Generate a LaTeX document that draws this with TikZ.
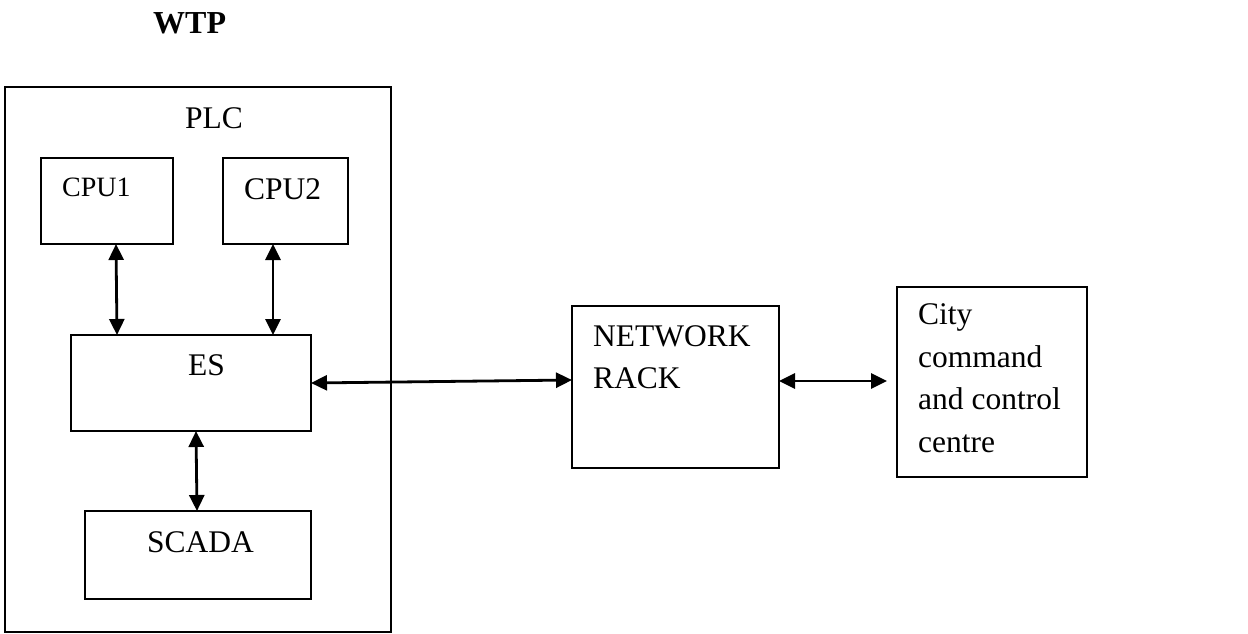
\documentclass[tikz,border=0pt]{standalone}
\usepackage{fontspec}
\setmainfont{Liberation Serif}
\usetikzlibrary{arrows.meta}
\begin{document}
\begin{tikzpicture}[x=1pt,y=-1pt,
  box/.style={draw=black,line width=2pt,minimum width=#1,inner sep=0pt,outer sep=0pt,anchor=north west},
  txt/.style={font=\fontsize{31.5}{42.5}\selectfont,inner sep=0pt,anchor=base west},
  para/.style={font=\fontsize{31.5}{42.5}\selectfont,inner sep=0pt,anchor=north west,align=left},
  link/.style={line width=2.8pt,{Triangle[length=16pt,width=15pt]}-{Triangle[length=16pt,width=15pt]}}]
\useasboundingbox (0,0) rectangle (1248,633);

% title
\node[txt,font=\fontsize{32}{42}\selectfont\bfseries] (title) at (153,33) {WTP};

% PLC enclosure and its parts
\node[box=386pt,minimum height=545pt] (plc) at (5,87) {};
\node[txt] (plclbl) at (185,128) {PLC};
\node[box=132pt,minimum height=86pt] (cpu1) at (41,158) {};
\node[txt,font=\fontsize{28}{36}\selectfont] (cpu1lbl) at (62,196) {CPU1};
\node[box=125pt,minimum height=86pt] (cpu2) at (223,158) {};
\node[txt] (cpu2lbl) at (244,199) {CPU2};
\node[box=240pt,minimum height=96pt] (es) at (71,335) {};
\node[txt] (eslbl) at (188,375) {ES};
\node[box=226pt,minimum height=88pt] (scada) at (85,511) {};
\node[txt] (scadalbl) at (147,552) {SCADA};

% network rack
\node[box=207pt,minimum height=162pt] (rack) at (572,306) {};
\node[para] (racklbl) at (593,325) {NETWORK\\RACK};

% city command and control centre
\node[box=190pt,minimum height=190pt] (city) at (897,287) {};
\node[para] (citylbl) at (918,303.5) {City\\command\\and control\\centre};

% links
\draw[link] ([xshift=75pt]cpu1.south west) -- ([xshift=46pt]es.north west);
\draw[link] ([xshift=50pt]cpu2.south west) -- ([xshift=202pt]es.north west);
\draw[link] ([xshift=5pt]es.south) -- ([xshift=112pt]scada.north west);
\draw[link] (es.east) -- ([yshift=7pt]rack.west);
\draw[link,shorten >=10pt] ([yshift=6pt]rack.east) -- ([yshift=1pt]city.west);
\end{tikzpicture}
\end{document}
